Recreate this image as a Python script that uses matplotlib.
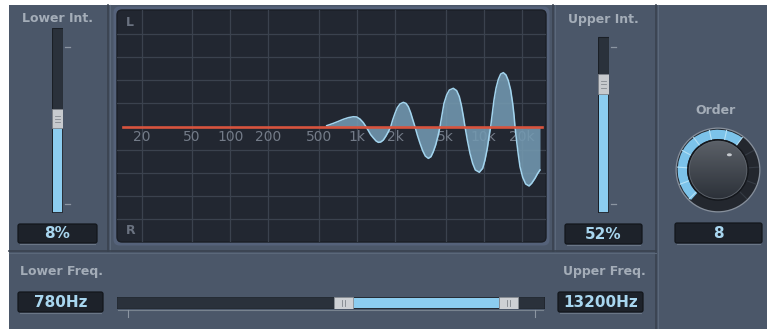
import matplotlib
matplotlib.use("Agg")
import matplotlib.pyplot as plt
import numpy as np
from matplotlib.patches import Rectangle, FancyBboxPatch, Wedge, Circle, Ellipse

W, H = 767, 329

# spread curve (Hz, level: +1 = L side, -1 = R side)
curve_freq = [577, 651, 713, 781, 855, 936, 995, 1057, 1123, 1179,
              1230, 1283, 1347, 1414, 1475, 1539, 1615, 1695, 1769, 1846,
              1914, 1996, 2083, 2186, 2323, 2438, 2543, 2654, 2752, 2871,
              2996, 3145, 3301, 3464, 3658, 3840, 4006, 4180, 4362, 4523,
              4690, 4864, 5105, 5358, 5762, 6122, 6426, 6664, 6910, 7123,
              7431, 7801, 8188, 8593, 9240, 9821, 10246, 10690, 11019, 11358,
              11707, 12068, 12514, 13056, 13623, 14298, 15009, 15659, 16340, 16945, 17359, 17678,
              18223, 18781, 19357, 20318, 21458, 22804, 23936, 25427, 26526, 27846]
curve_level = [0.009, 0.029, 0.046, 0.064, 0.078, 0.086, 0.084, 0.066, 0.035, 0.0,
               -0.034, -0.069, -0.097, -0.123, -0.135, -0.132, -0.115, -0.080, -0.043, 0.0,
               0.058, 0.115, 0.164, 0.196, 0.210, 0.201, 0.173, 0.121, 0.064, 0.0,
               -0.072, -0.143, -0.207, -0.253, -0.273, -0.258, -0.215, -0.158, -0.080, 0.0,
               0.101, 0.201, 0.273, 0.316, 0.331, 0.311, 0.259, 0.187, 0.092, 0.0,
               -0.115, -0.230, -0.316, -0.373, -0.393, -0.359, -0.287, -0.186, -0.086, 0.0,
               0.115, 0.230, 0.331, 0.408, 0.454, 0.466, 0.446, 0.397, 0.316, 0.201, 0.101, 0.0,
               -0.129, -0.244, -0.345, -0.436, -0.494, -0.511, -0.488, -0.445, -0.408, -0.373]

grid_freqs = [20, 50, 100, 200, 500, 1000, 2000, 5000, 10000, 20000]
grid_labels = ["20", "50", "100", "200", "500", "1k", "2k", "5k", "10k", "20k"]
level_grid = [-0.8, -0.6, -0.4, -0.2, 0.2, 0.4, 0.6, 0.8]

lower_int = 8       # %
upper_int = 52      # %
lower_freq = 780    # Hz
upper_freq = 13200  # Hz
order = 8
order_min, order_max = 1, 12

PANEL = "#4b5769"
LABEL = "#a4adb8"
VALUE = "#a8d6ef"
BLUE = "#8ccdf0"
TRACK = "#2a313b"


def px_axes(x0, y0, x1, y1):
    return fig.add_axes([x0 / W, 1 - y1 / H, (x1 - x0) / W, (y1 - y0) / H])


def value_box(x0, y0, x1, y1, text):
    bg.add_patch(FancyBboxPatch((x0, y0), x1 - x0, y1 - y0,
                                boxstyle="round,pad=0,rounding_size=2",
                                fc="#1d222a", ec="#12161b", lw=0.9))
    bg.plot([x0 + 2, x1 - 2], [y1 + 1.2, y1 + 1.2], color="#6a7686", lw=0.8)
    bg.text((x0 + x1) / 2, (y0 + y1) / 2 + 0.5, text, ha="center", va="center",
            color=VALUE, fontsize=11, fontweight="bold")


def vslider(x0, x1, track_top, value):
    # same value scale for both faders; only the track length differs
    sl = px_axes(x0, 28, x1, 213)
    sl.set_xlim(0, 1)
    sl.set_ylim(-112, 124)
    sl.axis("off")
    sl.add_patch(Rectangle((0, -112), 1, track_top + 112, fc=TRACK, ec="#1a1f26", lw=0.8))
    sl.add_patch(Rectangle((0.1, -111), 0.8, value - 12 + 111, fc=BLUE, lw=0))
    sl.add_patch(Rectangle((0, value - 12), 1, 25, fc="#c7cace", ec="#80858c", lw=0.6))
    for dy in (-4, 0, 4):
        sl.plot([0.3, 0.7], [value + dy, value + dy], color="#858a91", lw=0.6)
    for t in (100, -100):
        sl.plot([1.15, 1.6], [t, t], color="#8c96a2", lw=0.9, clip_on=False)
    return sl


fig = plt.figure(figsize=(W / 100, H / 100), dpi=100)
fig.patch.set_facecolor("white")

bg = fig.add_axes([0, 0, 1, 1])
bg.set_xlim(0, W)
bg.set_ylim(H, 0)
bg.axis("off")
bg.add_patch(Rectangle((9, 5), W - 9, H - 5, fc=PANEL, lw=0))

# section dividers
for x, top, bot in [(108, 5, 251), (553, 5, 251), (656, 5, H)]:
    bg.plot([x, x], [top, bot], color="#39424f", lw=1.2)
    bg.plot([x + 1.8, x + 1.8], [top, bot], color="#5b687a", lw=0.8)
bg.plot([9, 656], [251, 251], color="#39424f", lw=1.2)
bg.plot([9, 656], [252.8, 252.8], color="#5b687a", lw=0.8)

# graph bezel
bg.add_patch(FancyBboxPatch((113.5, 6.5), 436, 239, boxstyle="round,pad=0,rounding_size=6",
                            fc="#55627a", lw=0))
bg.add_patch(FancyBboxPatch((117, 10), 429, 232, boxstyle="round,pad=0,rounding_size=5",
                            fc="#222731", ec="#1a1e25", lw=1))

# ---- spread display ----
ax = px_axes(117, 10, 546, 242)
ax.set_xscale("log")
ax.set_xlim(12.77, 31050)
ax.set_ylim(-0.994, 1.006)
ax.axis("off")
for f in grid_freqs:
    ax.axvline(f, color="#3b424e", lw=0.9, zorder=1)
for lv in level_grid:
    ax.axhline(lv, color="#3b424e", lw=0.9, zorder=1)
for f, lab in zip(grid_freqs, grid_labels):
    ax.text(f, -0.086, lab, ha="center", va="center", color="#737b88", fontsize=10, zorder=2)
ax.text(0.03, 0.945, "L", transform=ax.transAxes, ha="center", va="center",
        color="#6a7280", fontsize=9, fontweight="bold")
ax.text(0.032, 0.05, "R", transform=ax.transAxes, ha="center", va="center",
        color="#6a7280", fontsize=9, fontweight="bold")
ax.fill_between(curve_freq, curve_level, 0, color="#7399b1", alpha=0.88, lw=0, zorder=3)
ax.plot(curve_freq, curve_level, color="#a2d4ee", lw=1.1, zorder=4)
ax.axhline(0, xmin=0.013, xmax=0.99, color="#d8543e", lw=1.9, zorder=5)

# ---- intensity sliders ----
bg.text(57, 19, "Lower Int.", ha="center", va="center", color=LABEL, fontsize=9, fontweight="bold")
vslider(51.7, 63.3, 124, lower_int)
value_box(18, 224, 97, 243, f"{lower_int}%")

bg.text(603, 19, "Upper Int.", ha="center", va="center", color=LABEL, fontsize=9, fontweight="bold")
vslider(597.7, 609.3, 112, upper_int)
value_box(565, 224, 642, 244, f"{upper_int}%")

# ---- frequency range slider ----
bg.text(61, 271, "Lower Freq.", ha="center", va="center", color=LABEL, fontsize=9, fontweight="bold")
value_box(18, 292, 103, 312, f"{lower_freq}Hz")
bg.text(604, 272, "Upper Freq.", ha="center", va="center", color=LABEL, fontsize=9, fontweight="bold")
value_box(558, 292, 643, 312, f"{upper_freq}Hz")

bs = px_axes(116.7, 296.7, 545, 309.3)
bs.set_xscale("log")
bs.set_xlim(12.7, 30480)
bs.set_ylim(0, 1)
bs.axis("off")
bs.add_patch(FancyBboxPatch((0, 0), 1, 1, boxstyle="round,pad=0,rounding_size=0.004",
                            transform=bs.transAxes, fc=TRACK, ec="#1a1f26", lw=0.8))
bs.add_patch(Rectangle((lower_freq * 1.19, 0.1), upper_freq - lower_freq * 1.19, 0.8, fc=BLUE, lw=0))
for a, b in [(lower_freq / 1.19, lower_freq * 1.19), (upper_freq, upper_freq * 1.41)]:
    bs.add_patch(Rectangle((a, 0.0), b - a, 1.0, fc="#cdd0d4", ec="#8a8f96", lw=0.6))
    mid = (a * b) ** 0.5
    for k in (0.97, 1.03):
        bs.plot([mid * k, mid * k], [0.25, 0.75], color="#7f848b", lw=0.6)
bs.plot([0.004, 0.996], [-0.07, -0.07], transform=bs.transAxes, color="#78838f", lw=0.8, clip_on=False)
for t in (0.0257, 0.9767):
    bs.plot([t, t], [-0.07, -0.6], transform=bs.transAxes, color="#8c96a2", lw=0.8, clip_on=False)

# ---- order knob ----
bg.text(716, 110, "Order", ha="center", va="center", color=LABEL, fontsize=9, fontweight="bold")
kx = px_axes(674, 126, 762, 214)
kx.axis("off")
ang = 225 - 270 * (order - order_min) / (order_max - order_min)
kx.add_patch(Circle((0, 0), 42.5, fc="#868f9b", lw=0))
kx.add_patch(Circle((0, 0), 41.2, fc="#23272e", lw=0))
kx.add_patch(Wedge((0, 0), 40.3, ang, 228, width=9.3, fc="#7cc3ea", lw=0))
for k in range(12):
    a = np.radians(225 - k * 270 / 11)
    on = 225 - k * 270 / 11 >= ang
    kx.plot([31 * np.cos(a), 40.5 * np.cos(a)], [31 * np.sin(a), 40.5 * np.sin(a)],
            color="#b4e1f6" if on else "#353b44", lw=0.8)
grad = np.linspace(0, 1, 64)[:, None]
top, bottom = np.array([0.36, 0.38, 0.41]), np.array([0.17, 0.19, 0.22])
img = top[None, None, :] * (1 - grad[..., None]) + bottom[None, None, :] * grad[..., None]
img = np.repeat(img, 2, axis=1)
body = Circle((0, 0), 30, transform=kx.transData)
im = kx.imshow(img, extent=(-30, 30, -30, 30), origin="upper", interpolation="bilinear", zorder=3)
im.set_clip_path(body)
kx.add_patch(Circle((0, 0), 30, fc="none", ec="#15181d", lw=1.2, zorder=4))
kx.add_patch(Circle((0, 0), 28.8, fc="none", ec="#5e646c", lw=0.6, zorder=4))
kx.add_patch(Ellipse((19 * np.cos(np.radians(ang)), 19 * np.sin(np.radians(ang))), 5, 3,
                     fc="#c5c9ce", lw=0, zorder=5))
kx.set_xlim(-44, 44)
kx.set_ylim(-44, 44)
value_box(675, 223, 762, 243, f"{order}")

fig.savefig("out.png", dpi=100)
